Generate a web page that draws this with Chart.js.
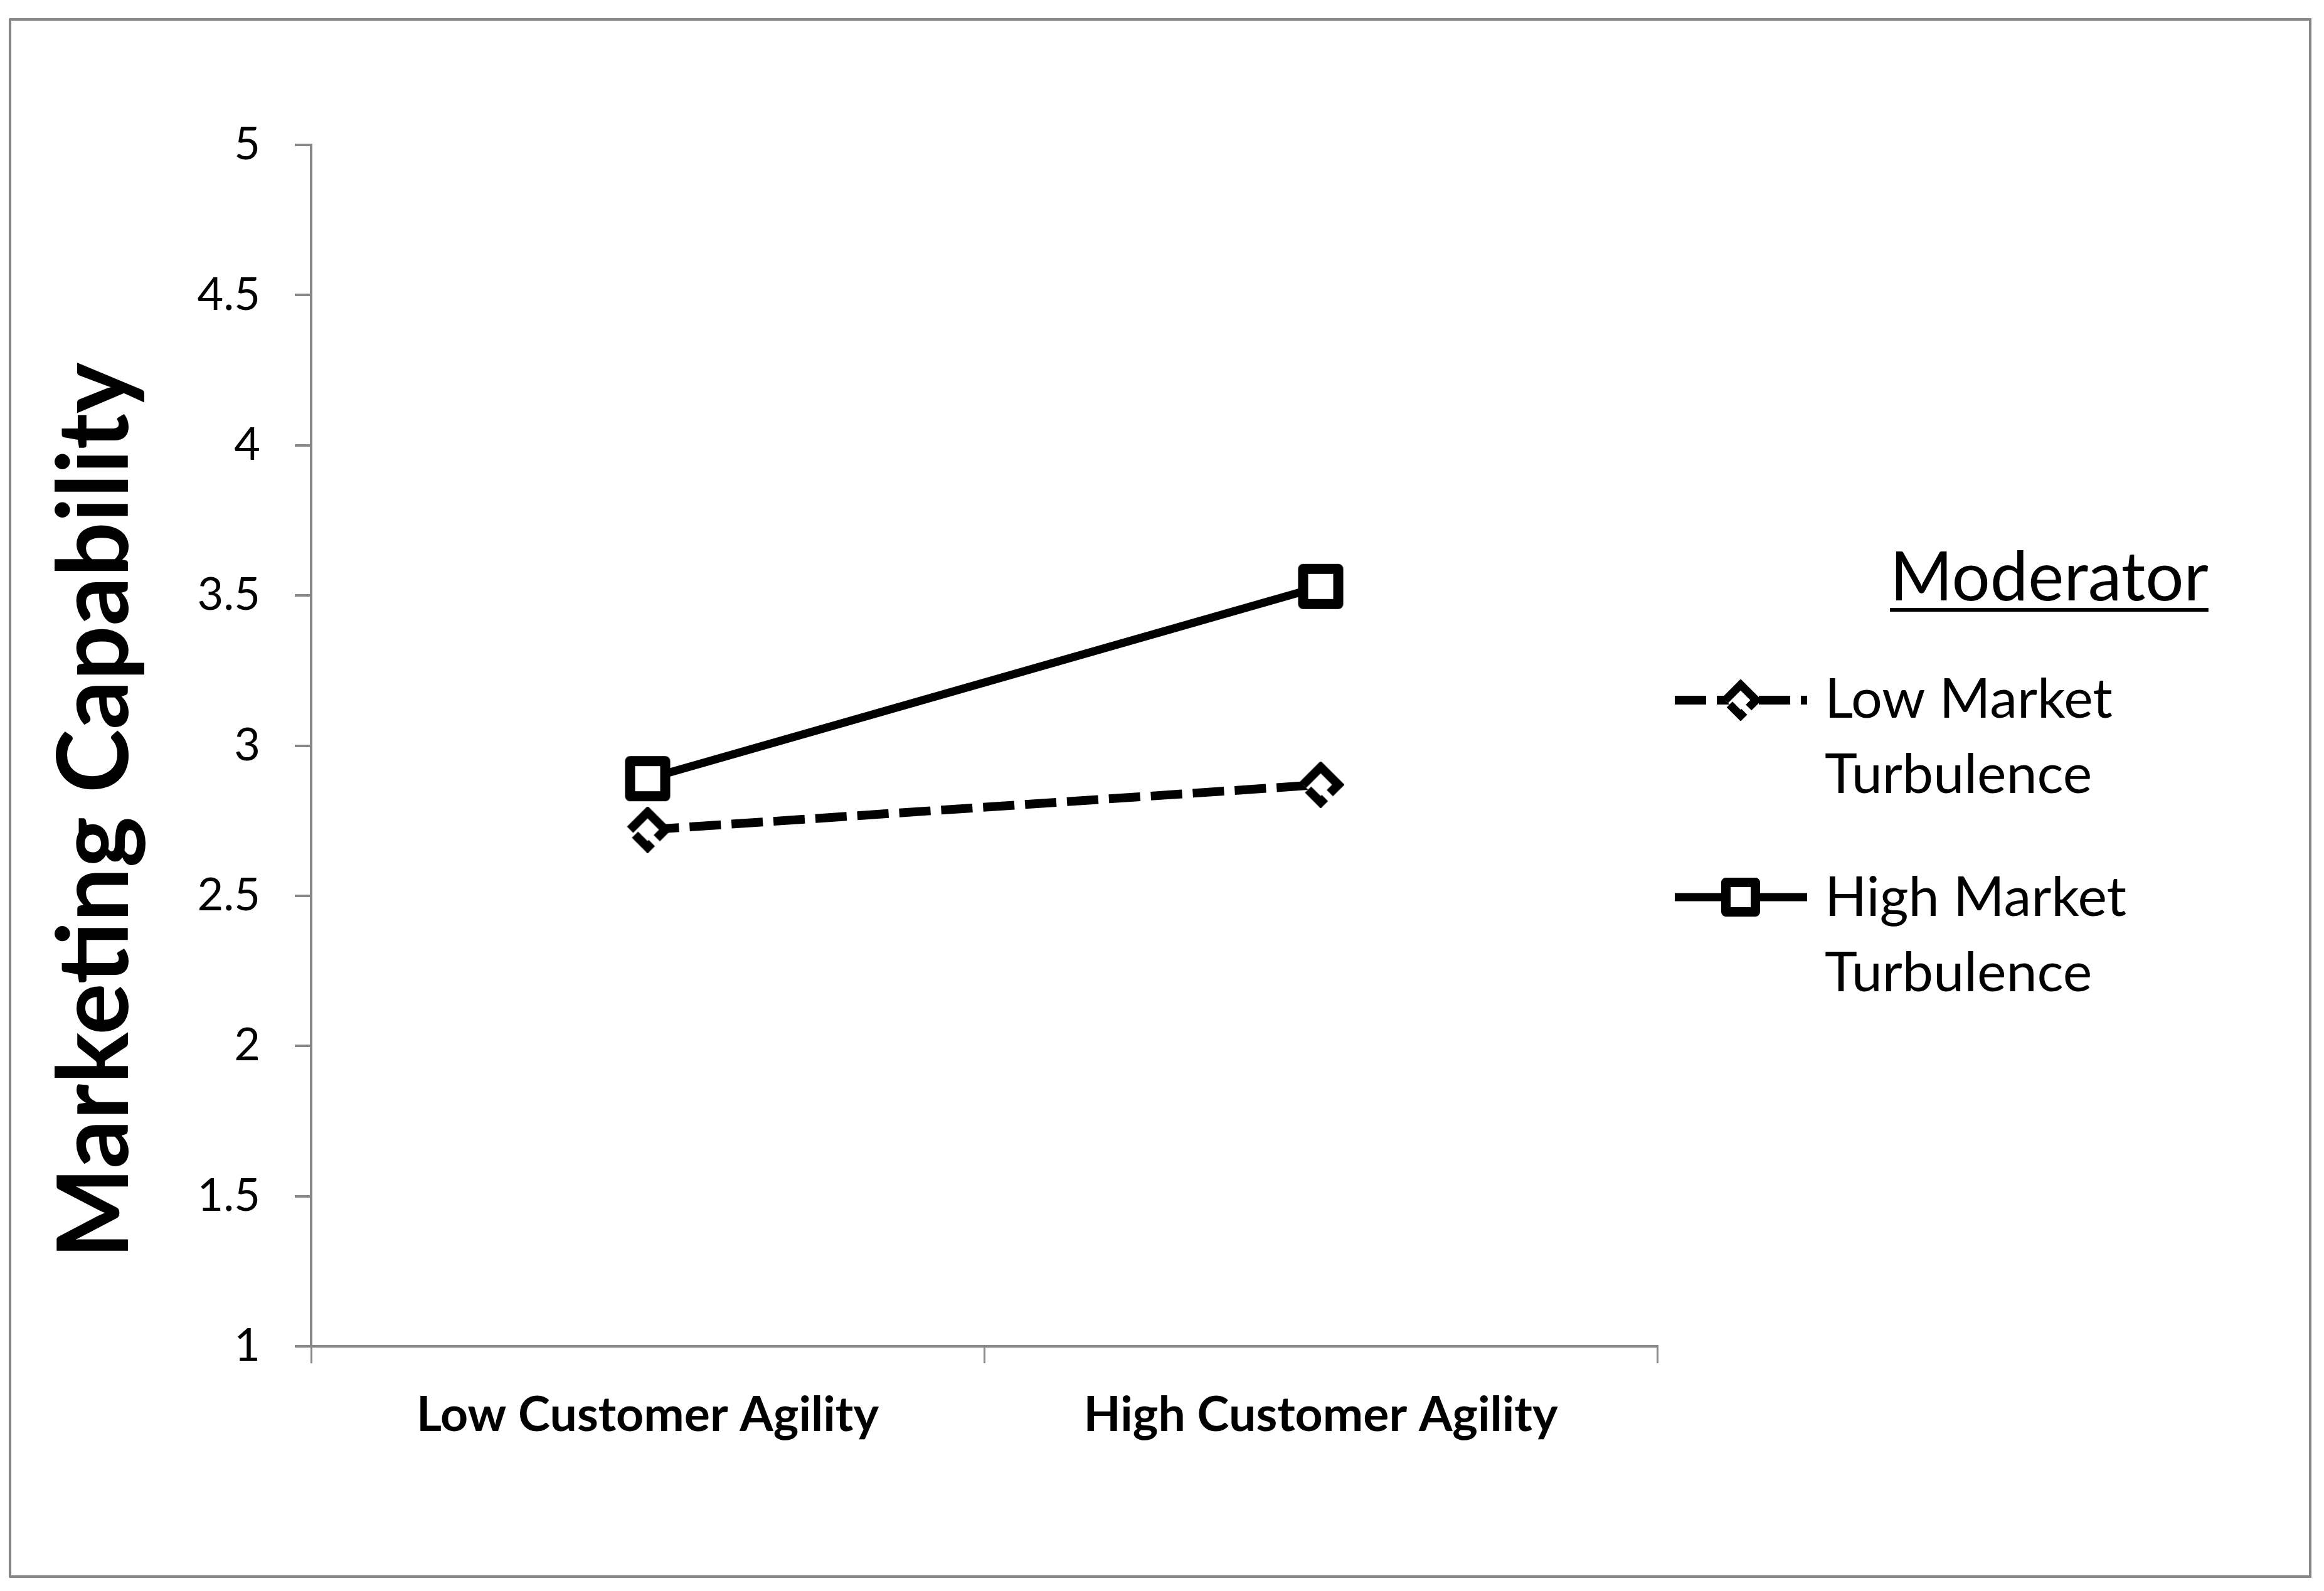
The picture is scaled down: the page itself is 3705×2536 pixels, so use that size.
<!DOCTYPE html>
<html>
<head>
<meta charset="utf-8">
<script src="https://cdn.jsdelivr.net/npm/chart.js@4.4.1/dist/chart.umd.min.js"></script>
<style>
  html, body { margin: 0; padding: 0; background: #fff; }
  #wrap { width: 3705px; height: 2536px; }
</style>
</head>
<body>
<div id="wrap"><canvas id="c" width="3705" height="2536"></canvas></div>
<script>
// ---- data ----
const categories = ['Low Customer Agility', 'High Customer Agility'];
const lowTurbulence = [2.72, 2.87];
const highTurbulence = [2.89, 3.53];
const seriesNames = ['Low Market Turbulence', 'High Market Turbulence'];
const legendLines = [['Low Market', 'Turbulence'], ['High Market', 'Turbulence']];
const legendTitle = 'Moderator';
const yAxisTitle = 'Marketing Capability';
const yMin = 1, yMax = 5, yStep = 0.5;

// ---- styles ----
const GRAY = '#878787';
const FONT = 'Lato';

function makeSquare(outer, lw) {
  const c = document.createElement('canvas');
  c.width = c.height = outer + 4;
  const ctx = c.getContext('2d');
  const s = outer - lw;
  const o = (c.width - s) / 2;
  ctx.lineWidth = lw; ctx.lineJoin = 'round';
  ctx.strokeStyle = '#000'; ctx.fillStyle = '#fff';
  ctx.fillRect(o, o, s, s);
  ctx.strokeRect(o, o, s, s);
  return c;
}
function makeDiamond(outer, lw) {
  const c = document.createElement('canvas');
  c.width = c.height = outer + 4;
  const ctx = c.getContext('2d');
  const m = c.width / 2;
  const h = outer / 2 - lw / 2;
  ctx.lineWidth = lw; ctx.lineJoin = 'miter'; ctx.lineCap = 'butt';
  ctx.strokeStyle = '#000'; ctx.fillStyle = '#fff';
  ctx.beginPath();
  ctx.moveTo(m - h, m); ctx.lineTo(m, m - h); ctx.lineTo(m + h, m); ctx.lineTo(m, m + h); ctx.closePath();
  ctx.fill();
  const side = h * Math.SQRT2;
  const per = side * 4;
  ctx.setLineDash([per * 0.62, per * 0.07, per * 0.24, per * 0.07]);
  ctx.beginPath();
  ctx.moveTo(m - h, m); ctx.lineTo(m, m - h); ctx.lineTo(m + h, m); ctx.lineTo(m, m + h); ctx.lineTo(m - h, m);
  ctx.stroke();
  return c;
}
const squareMarker = makeSquare(72, 16);
const diamondMarker = makeDiamond(70, 14);
const squareLegend = makeSquare(62, 15);
const diamondLegend = makeDiamond(62, 13);

const framePlugin = {
  id: 'frame',
  beforeDraw(chart) {
    const ctx = chart.ctx;
    ctx.save();
    ctx.fillStyle = '#fff';
    ctx.fillRect(0, 0, chart.width, chart.height);
    ctx.strokeStyle = GRAY; ctx.lineWidth = 4;
    ctx.strokeRect(16, 31, 3667, 2482);
    ctx.restore();
  }
};

const yTitlePlugin = {
  id: 'yTitle',
  afterDraw(chart) {
    const ctx = chart.ctx;
    ctx.save();
    ctx.font = 'bold 158px ' + FONT;
    ctx.fillStyle = '#000';
    ctx.textAlign = 'center';
    ctx.textBaseline = 'alphabetic';
    const w = ctx.measureText(yAxisTitle).width;
    ctx.translate(204, 1292);
    ctx.rotate(-Math.PI / 2);
    ctx.scale(1428 / w, 1);
    ctx.fillText(yAxisTitle, 0, 0);
    ctx.restore();
  }
};

const legendPlugin = {
  id: 'customLegend',
  afterDraw(chart) {
    const ctx = chart.ctx;
    ctx.save();
    // title
    ctx.font = '108px ' + FONT;
    ctx.fillStyle = '#000';
    ctx.textAlign = 'left';
    ctx.textBaseline = 'alphabetic';
    const tx = 3013;
    const tw = ctx.measureText(legendTitle).width;
    ctx.fillText(legendTitle, tx, 957);
    ctx.fillRect(tx, 969, tw, 6);
    // items
    const lineYs = [1116, 1430];
    const textBase = [[1144, 1264], [1460, 1580]];
    const markers = [diamondLegend, squareLegend];
    chart.data.datasets.forEach((ds, i) => {
      const y = lineYs[i];
      ctx.save();
      ctx.strokeStyle = ds.borderColor;
      ctx.lineWidth = ds.borderWidth;
      ctx.lineCap = 'butt';
      ctx.setLineDash(ds.borderDash || []);
      ctx.beginPath();
      ctx.moveTo(2670, y); ctx.lineTo(2881, y);
      ctx.stroke();
      ctx.restore();
      const mk = markers[i];
      ctx.drawImage(mk, 2775 - mk.width / 2, y - mk.height / 2);
      ctx.font = '88px ' + FONT;
      ctx.fillStyle = '#000';
      legendLines[i].forEach((t, j) => ctx.fillText(t, 2909, textBase[i][j]));
    });
    ctx.restore();
  }
};

function build() {
  new Chart(document.getElementById('c'), {
    type: 'line',
    data: {
      labels: categories,
      datasets: [
        {
          label: seriesNames[0],
          data: lowTurbulence,
          borderColor: '#000',
          borderWidth: 14,
          borderDash: [50, 17],
          pointStyle: diamondMarker,
          pointRadius: 35,
          fill: false
        },
        {
          label: seriesNames[1],
          data: highTurbulence,
          borderColor: '#000',
          borderWidth: 13,
          pointStyle: squareMarker,
          pointRadius: 36,
          fill: false
        }
      ]
    },
    options: {
      responsive: false,
      devicePixelRatio: 1,
      animation: false,
      events: [],
      layout: { padding: { left: 0, top: 231, right: 1063, bottom: 0 } },
      plugins: { legend: { display: false }, tooltip: { enabled: false }, title: { display: false } },
      scales: {
        x: {
          type: 'category',
          offset: true,
          grid: { offset: true, drawOnChartArea: false, drawTicks: true, tickLength: 27, color: GRAY, lineWidth: 3 },
          border: { color: GRAY, width: 4 },
          ticks: { font: { family: FONT, weight: 'bold', size: 77 }, color: '#000', padding: 37, maxRotation: 0, autoSkip: false },
          afterFit(s) { s.height = 390; }
        },
        y: {
          min: yMin, max: yMax,
          ticks: {
            stepSize: yStep,
            font: { family: FONT, size: 72 },
            color: '#000',
            padding: 55,
            callback: (v) => String(Number(v))
          },
          grid: { drawOnChartArea: false, drawTicks: true, tickLength: 26, color: GRAY, lineWidth: 4 },
          border: { color: GRAY, width: 4 },
          afterFit(s) { s.width = 496; }
        }
      }
    },
    plugins: [framePlugin, yTitlePlugin, legendPlugin]
  });
}
if (document.fonts && document.fonts.load) {
  Promise.all([document.fonts.load('72px Lato'), document.fonts.load('bold 72px Lato')]).then(build, build);
} else { build(); }
</script>
</body>
</html>
